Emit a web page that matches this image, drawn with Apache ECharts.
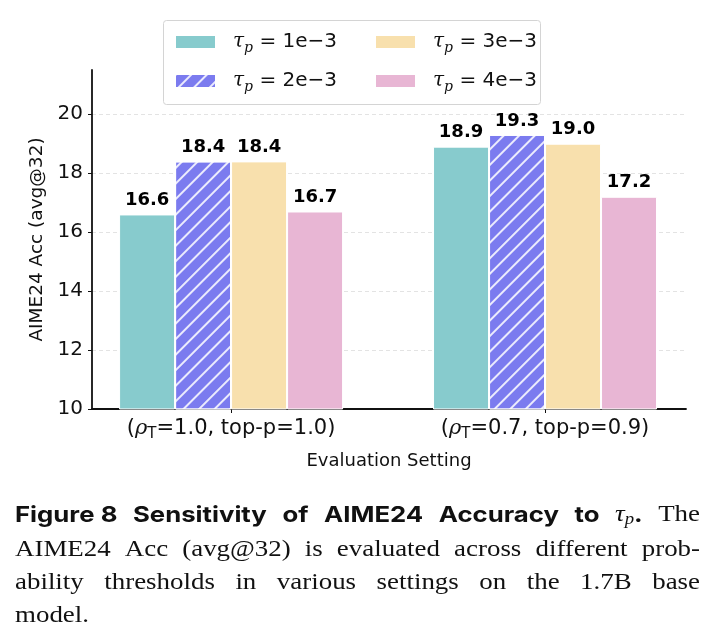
<!DOCTYPE html>
<html><head><meta charset="utf-8">
<script src="https://cdn.jsdelivr.net/npm/echarts@6/dist/echarts.min.js"></script>
<style>html,body{margin:0;padding:0;background:#fff}#c{width:714px;height:643px}</style>
</head><body><div id="c"></div>
<script>
// ---- data ----
const settings = ['(ρ_T=1.0, top-p=1.0)', '(ρ_T=0.7, top-p=0.9)'];
const seriesNames = ['τ_p = 1e−3', 'τ_p = 2e−3', 'τ_p = 3e−3', 'τ_p = 4e−3'];
const tau1e3 = [16.6, 18.9];
const tau2e3 = [18.4, 19.3];
const tau3e3 = [18.4, 19.0];
const tau4e3 = [16.7, 17.2];
const yTicks = [10, 12, 14, 16, 18, 20];
const xTitle = 'Evaluation Setting';
const yTitle = 'AIME24 Acc (avg@32)';

const values = [tau1e3, tau2e3, tau3e3, tau4e3];
const colors = ['#87CBCD', '#7B7BEF', '#F8E0AD', '#E8B6D4'];

const chart = echarts.init(document.getElementById('c'), null, {renderer: 'canvas'});

const hatch = {
  symbol: 'rect', symbolSize: 1, color: 'rgba(255,255,255,0.85)',
  dashArrayX: [1, 0], dashArrayY: [1.5, 8.5], rotation: -Math.PI / 4
};

const series = seriesNames.map((n, i) => ({
  name: n, type: 'bar', barWidth: 56, barGap: '0%',
  data: values[i].map((v, k) => [k, v]),
  itemStyle: Object.assign({color: colors[i], borderColor: '#fff', borderWidth: 1},
    i === 1 ? {decal: hatch} : {}),
  label: {show: true, position: 'top', distance: 5, fontFamily: 'DejaVu Sans', fontWeight: 'bold',
    fontSize: 18, color: '#000', formatter: p => p.value[1].toFixed(1)}
}));

const legendRich = {
  t: {fontFamily: 'DejaVu Serif', fontStyle: 'italic', fontSize: 20, color: '#111'},
  s: {fontFamily: 'DejaVu Serif', fontStyle: 'italic', fontSize: 14, color: '#111', verticalAlign: 'bottom', padding: [12, 0, 0, 0]},
  n: {fontFamily: 'DejaVu Sans', fontSize: 20, color: '#111'}
};
const legendPos = [[174, 32], [174, 71], [374, 32], [374, 71]];
const legends = seriesNames.map((n, i) => ({
  data: [n], left: legendPos[i][0], top: legendPos[i][1], icon: 'rect', padding: 0,
  itemWidth: 41, itemHeight: 14, selectedMode: false,
  formatter: s => { const m = s.split(' = '); return '{t|τ}{s|p}{n| = ' + m[1] + '}'; },
  textStyle: {rich: legendRich, padding: [0, 0, 0, 12]}
}));

// caption layout with justification
const mctx = document.createElement('canvas').getContext('2d');
function w(text, font, sx) { mctx.font = font; return mctx.measureText(text).width * sx; }
const SB = 1.17, SS = 1.17;
const SANSB = ['bold 22px Inter', SB];
const SERIF = ['23px "Liberation Serif"', SS];
const SERIFI = ['italic 23px "Liberation Serif"', SS];
const SERIFIs = ['italic 16px "Liberation Serif"', SS];
const captionLines = [
  {y: 515, just: true, tokens: [
    [['Figure 8', SANSB]], [['Sensitivity', SANSB]], [['of', SANSB]], [['AIME24', SANSB]],
    [['Accuracy', SANSB]], [['to', SANSB]], [['τ', SERIFI], ['p', SERIFIs, 5], ['.', SANSB]], [['The', SERIF]]]},
  {y: 550, just: true, tokens: 'AIME24 Acc (avg@32) is evaluated across different prob-'.split(' ').map(t => [[t, SERIF]])},
  {y: 583, just: true, tokens: 'ability thresholds in various settings on the 1.7B base'.split(' ').map(t => [[t, SERIF]])},
  {y: 616, just: false, tokens: [[['model.', SERIF]]]}
];
const graphics = [{type: 'rect', z: 0, shape: {x: 163.5, y: 20.5, width: 377, height: 84, r: 3},
  style: {fill: '#fff', stroke: '#d4d4d4', lineWidth: 1}}];
const X0 = 15, X1 = 700;
captionLines.forEach(line => {
  const tw = line.tokens.map(tok => tok.reduce((a, p) => a + w(p[0], p[1][0], p[1][1]), 0));
  const sum = tw.reduce((a, b) => a + b, 0);
  const gap = line.just && line.tokens.length > 1 ? (X1 - X0 - sum) / (line.tokens.length - 1) : 6;
  let x = X0;
  line.tokens.forEach((tok, ti) => {
    let px = x;
    tok.forEach(p => {
      graphics.push({type: 'text', x: px, y: line.y + (p[2] || 0), scaleX: p[1][1],
        style: {text: p[0], font: p[1][0], fill: '#111', verticalAlign: 'middle', align: 'left'}});
      px += w(p[0], p[1][0], p[1][1]);
    });
    x += tw[ti] + gap;
  });
});

const option = {
  backgroundColor: '#fff',
  animation: false,
  grid: {left: 92, right: 28, top: 70, bottom: 234, containLabel: false},
  legend: legends,
  xAxis: {
    type: 'value', min: -0.443, max: 1.449,
    axisLine: {show: true, onZero: false, lineStyle: {color: '#111', width: 1.8}},
    axisTick: {show: true, customValues: [0, 1], length: 4, lineStyle: {color: '#111'}},
    axisLabel: {customValues: [0, 1], margin: 6, fontFamily: 'DejaVu Sans', fontSize: 21, color: '#111',
      formatter: v => settings[Math.round(v)].replace('ρ_T', '{r|ρ}{s|T}'),
      rich: {r: {fontFamily: 'DejaVu Serif', fontStyle: 'italic', fontSize: 21, color: '#111'},
             s: {fontFamily: 'DejaVu Sans', fontSize: 15, color: '#111', verticalAlign: 'bottom', padding: [12, 0, 0, 0]}}},
    splitLine: {show: false},
    name: xTitle, nameLocation: 'middle', nameGap: 43,
    nameTextStyle: {fontFamily: 'DejaVu Sans', fontSize: 18, color: '#111'}
  },
  yAxis: {
    type: 'value', min: 10, max: 21.5, interval: 2,
    axisLine: {show: true, onZero: false, lineStyle: {color: '#111', width: 1.8}},
    axisTick: {show: true, length: 4, lineStyle: {color: '#111'}},
    axisLabel: {showMaxLabel: false, margin: 9, fontFamily: 'DejaVu Sans', fontSize: 20, color: '#111',
      formatter: v => (yTicks.indexOf(v) >= 0 ? String(v) : '')},
    splitLine: {show: true, lineStyle: {type: [4, 3], width: 0.8,
      color: ['transparent', '#dcdcdc', '#dcdcdc', '#dcdcdc', '#dcdcdc', '#dcdcdc', 'transparent']}},
    name: yTitle, nameLocation: 'middle', nameGap: 44,
    nameTextStyle: {fontFamily: 'DejaVu Sans', fontSize: 18.5, color: '#111'}
  },
  graphic: graphics,
  series: series
};
chart.setOption(option);
</script></body></html>
